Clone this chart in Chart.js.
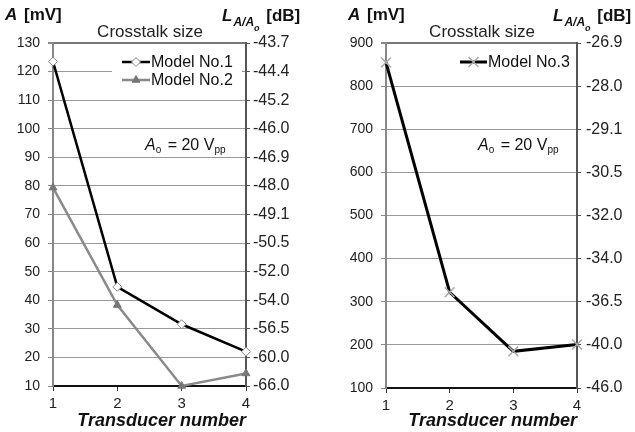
<!DOCTYPE html>
<html lang="en">
<head>
<meta charset="UTF-8">
<title>Crosstalk size</title>
<script src="https://cdn.jsdelivr.net/npm/chart.js"></script>
<style>
  body { margin: 0; background: #fff; }
  .wrap { position: relative; width: 635px; height: 432px; }
  #left { position: absolute; left: 0; top: 0; }
  #right { position: absolute; left: 320px; top: 0; }
</style>
</head>
<body>
<div class="wrap">
  <canvas id="left" width="320" height="432"></canvas>
  <canvas id="right" width="315" height="432"></canvas>
</div>
<script>
// transducer index on the x axis
const transducers = [1, 2, 3, 4];

// crosstalk amplitude A [mV]
const model1 = [123.5, 44.7, 31.6, 22.0];
const model2 = [79.4, 38.3, 10.0, 14.4];
const model3 = [855, 322, 185, 201];

// amplitude ticks and the matching level L = 20 log(A/Ao) [dB], Ao = 20 Vpp
const leftTicks = [10, 20, 30, 40, 50, 60, 70, 80, 90, 100, 110, 120, 130];
const leftDb = ['-66.0', '-60.0', '-56.5', '-54.0', '-52.0', '-50.5', '-49.1',
                '-48.0', '-46.9', '-46.0', '-45.2', '-44.4', '-43.7'];
const rightTicks = [100, 200, 300, 400, 500, 600, 700, 800, 900];
const rightDb = ['-46.0', '-40.0', '-36.5', '-34.0', '-32.0', '-30.5', '-29.1',
                 '-28.0', '-26.9'];

const FONT = 'Arial, "Liberation Sans", sans-serif';

function drawRuns(ctx, x, y, runs) {
  ctx.save();
  ctx.textAlign = 'left';
  ctx.textBaseline = 'alphabetic';
  for (const r of runs) {
    ctx.font = r.font;
    ctx.fillStyle = r.color || '#111';
    ctx.fillText(r.text, x, y + (r.dy || 0));
    x += ctx.measureText(r.text).width + (r.gap || 0);
  }
  ctx.restore();
}

// header texts, panel title and the Ao note
const panelText = {
  id: 'panelText',
  afterDraw(chart, args, o) {
    const ctx = chart.ctx;
    ctx.save();
    ctx.font = '17px ' + FONT;
    ctx.fillStyle = '#222';
    ctx.textAlign = 'center';
    ctx.textBaseline = 'alphabetic';
    ctx.fillText('Crosstalk size', o.titleX, 37);
    ctx.restore();

    drawRuns(ctx, o.ampX, 20, [
      { text: 'A', font: 'italic bold 17px ' + FONT, gap: 2 },
      { text: ' [mV]', font: 'bold 17px ' + FONT }
    ]);
    drawRuns(ctx, o.levelX, 21, [
      { text: 'L', font: 'italic bold 17px ' + FONT, gap: 1 },
      { text: 'A/A', font: 'italic bold 12px ' + FONT, dy: 5 },
      { text: 'o', font: 'italic bold 9px ' + FONT, dy: 10, gap: 2 },
      { text: ' [dB]', font: 'bold 17px ' + FONT }
    ]);
    drawRuns(ctx, o.noteX, 150, [
      { text: 'A', font: 'italic 16px ' + FONT },
      { text: 'o', font: '10px ' + FONT, dy: 3, gap: 2 },
      { text: ' = 20 V', font: '16px ' + FONT },
      { text: 'pp', font: '10px ' + FONT, dy: 3 }
    ]);
  }
};

// legend inside the plot: line sample with marker, then the label
const innerLegend = {
  id: 'innerLegend',
  afterDatasetsDraw(chart, args, o) {
    const ctx = chart.ctx;
    ctx.save();
    ctx.fillStyle = '#fff';
    ctx.fillRect(o.box[0], o.box[1], o.box[2], o.box[3]);
    chart.data.datasets.forEach((ds, i) => {
      const y = o.rows[i];
      ctx.strokeStyle = ds.borderColor;
      ctx.lineWidth = ds.borderWidth;
      ctx.beginPath();
      ctx.moveTo(o.lineFrom, y);
      ctx.lineTo(o.lineTo, y);
      ctx.stroke();
      ctx.fillStyle = ds.pointBackgroundColor;
      ctx.strokeStyle = ds.pointBorderColor;
      ctx.lineWidth = ds.pointBorderWidth;
      Chart.helpers.drawPoint(ctx, {
        pointStyle: ds.pointStyle, radius: ds.pointRadius,
        rotation: 0, borderWidth: ds.pointBorderWidth
      }, (o.lineFrom + o.lineTo) / 2, y);
      ctx.font = '16px ' + FONT;
      ctx.fillStyle = '#111';
      ctx.textAlign = 'left';
      ctx.textBaseline = 'middle';
      ctx.fillText(ds.label, o.textX, y + 1);
    });
    ctx.restore();
  }
};

function points(values) {
  return values.map((v, i) => ({ x: transducers[i], y: v }));
}

function makeChart(id, p) {
  const top = p.ticks[p.ticks.length - 1];
  const bottom = p.ticks[0];
  const step = p.ticks[1] - p.ticks[0];
  return new Chart(document.getElementById(id), {
    type: 'line',
    data: { datasets: p.datasets.map(ds => Object.assign({ clip: false }, ds)) },
    options: {
      responsive: false,
      animation: false,
      layout: { padding: { top: 43, left: 0, right: 0, bottom: 0 } },
      plugins: {
        legend: { display: false },
        tooltip: { enabled: false },
        panelText: p.text,
        innerLegend: p.legend
      },
      scales: {
        x: {
          type: 'linear', min: 1, max: 4,
          ticks: { stepSize: 1, padding: 4, color: '#222', font: { family: FONT, size: 15 } },
          grid: { drawOnChartArea: false, tickLength: 5, color: '#333' },
          border: { color: '#111', width: 2 },
          title: {
            display: true, text: 'Transducer number', align: 'end', color: '#111',
            font: { family: FONT, size: 18, weight: 'bold', style: 'italic' },
            padding: { top: 0, bottom: 0 }
          },
          afterFit: s => { s.height = p.xHeight; }
        },
        y: {
          position: 'left', min: bottom, max: top,
          ticks: { stepSize: step, padding: 8, color: '#222', font: { family: FONT, size: 14 } },
          grid: {
            color: c => c.tick && c.tick.value === top ? '#777' : '#999',
            lineWidth: c => c.tick && c.tick.value === top ? 2 : 1,
            tickLength: 5, tickColor: '#888'
          },
          border: { color: '#888', width: 2 },
          afterFit: s => { s.width = p.leftWidth; }
        },
        y2: {
          position: 'right', min: bottom, max: top,
          ticks: {
            stepSize: step, padding: p.dbPad, color: '#222', font: { family: FONT, size: 16 },
            callback: v => p.db[p.ticks.indexOf(v)]
          },
          grid: { drawOnChartArea: false, tickLength: 4, color: '#555' },
          border: { color: '#555', width: 2 },
          afterFit: s => { s.width = p.rightWidth; }
        }
      }
    },
    plugins: [panelText, innerLegend]
  });
}

makeChart('left', {
  ticks: leftTicks, db: leftDb,
  leftWidth: 53, rightWidth: 74, xHeight: 46, dbPad: 3,
  text: { titleX: 150, ampX: 5, levelX: 222, noteX: 145 },
  legend: { box: [112, 51, 130, 40], rows: [62, 80], lineFrom: 122, lineTo: 150, textX: 151 },
  datasets: [
    {
      label: 'Model No.1', data: points(model1),
      borderColor: '#000', borderWidth: 2.5,
      pointStyle: 'rectRot', pointRadius: 4.5,
      pointBackgroundColor: '#fff', pointBorderColor: '#888', pointBorderWidth: 1
    },
    {
      label: 'Model No.2', data: points(model2),
      borderColor: '#8a8a8a', borderWidth: 2.5,
      pointStyle: 'triangle', pointRadius: 4.5,
      pointBackgroundColor: '#777', pointBorderColor: '#777', pointBorderWidth: 1
    }
  ]
});

makeChart('right', {
  ticks: rightTicks, db: rightDb,
  leftWidth: 66, rightWidth: 58, xHeight: 44, dbPad: 5,
  text: { titleX: 162, ampX: 28, levelX: 233, noteX: 158 },
  legend: { box: [136, 52, 120, 20], rows: [62], lineFrom: 140, lineTo: 167, textX: 168 },
  datasets: [
    {
      label: 'Model No.3', data: points(model3),
      borderColor: '#000', borderWidth: 3,
      pointStyle: 'crossRot', pointRadius: 7,
      pointBackgroundColor: '#aaa', pointBorderColor: '#aaa', pointBorderWidth: 1.5
    }
  ]
});
</script>
</body>
</html>
